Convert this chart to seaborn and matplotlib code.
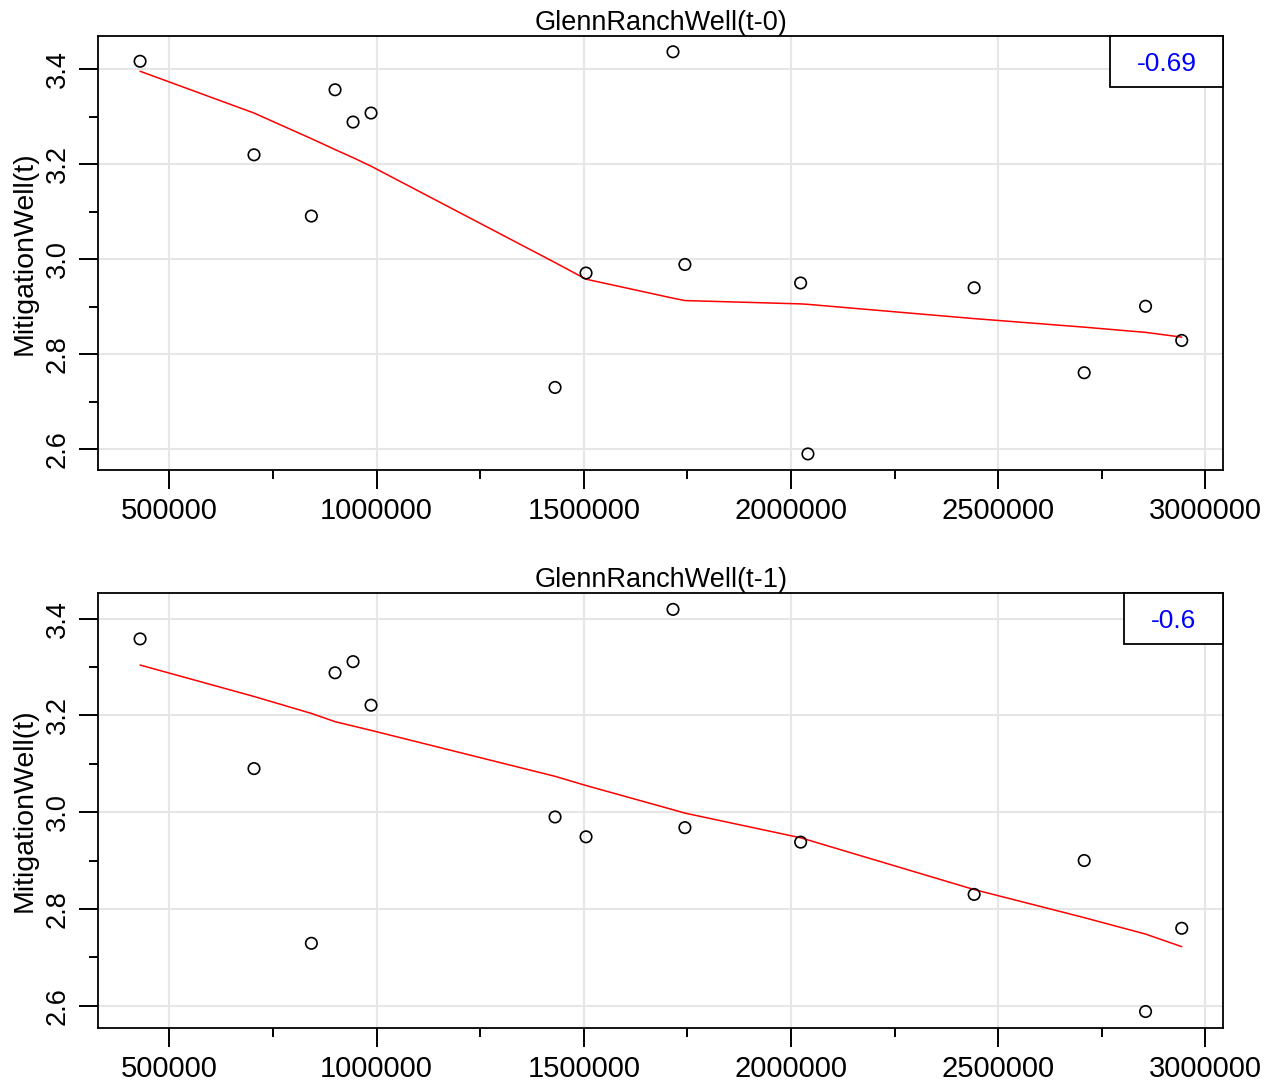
import matplotlib
matplotlib.use("Agg")
import matplotlib.pyplot as plt
from matplotlib.patches import Rectangle
from matplotlib.ticker import MultipleLocator, FormatStrFormatter
import pandas as pd
import seaborn as sns

# -----------------------------
# Values
# -----------------------------
# panel 1: GlennRanchWell(t-0) vs MitigationWell(t)
glenn_t0 = [429100, 704050, 842500, 899650, 943070, 986490, 1430520, 1505300,
            1715150, 1743850, 2023150, 2040760, 2441850, 2707400, 2855500, 2942800]
mitig_t0 = [3.417, 3.220, 3.091, 3.357, 3.289, 3.308, 2.730, 2.971,
            3.437, 2.989, 2.950, 2.590, 2.940, 2.761, 2.901, 2.829]
lowess_t0 = [3.396, 3.308, 3.254, 3.231, 3.214, 3.196, 2.993, 2.958,
             2.918, 2.913, 2.906, 2.905, 2.875, 2.857, 2.846, 2.836]

# panel 2: GlennRanchWell(t-1) vs MitigationWell(t)
glenn_t1 = [429100, 704050, 842500, 899650, 943070, 986490, 1430520, 1505300,
            1715150, 1743850, 2023150, 2441850, 2707400, 2855500, 2942800]
mitig_t1 = [3.358, 3.090, 2.729, 3.288, 3.311, 3.221, 2.990, 2.949,
            3.419, 2.968, 2.938, 2.830, 2.900, 2.588, 2.760]
lowess_t1 = [3.304, 3.239, 3.204, 3.187, 3.178, 3.169, 3.074, 3.055,
             3.005, 2.998, 2.947, 2.840, 2.782, 2.748, 2.722]

titles = ["GlennRanchWell(t-0)", "GlennRanchWell(t-1)"]
corr_labels = ["-0.69", "-0.6"]
y_label = "MitigationWell(t)"

# -----------------------------
# Style
# -----------------------------
sns.set_style("ticks")
plt.rcParams['font.family'] = ['Liberation Sans', 'DejaVu Sans']
plt.rcParams['text.color'] = 'black'
plt.rcParams['axes.labelcolor'] = 'black'
plt.rcParams['xtick.color'] = 'black'
plt.rcParams['ytick.color'] = 'black'

W, H = 1270, 1082
fig = plt.figure(figsize=(W / 100, H / 100), dpi=100)

# layout in pixels: (axes top, corr-box left, corr-box bottom)
panels = [
    (glenn_t0, mitig_t0, lowess_t0, titles[0], corr_labels[0], 35.7, 1110, 86.7),
    (glenn_t1, mitig_t1, lowess_t1, titles[1], corr_labels[1], 593.3, 1124, 644),
]
ax_left, ax_w, ax_h = 98.4, 1125, 434.3

for xs, ys, fit, title, corr, top_px, box_left, box_bottom in panels:
    ax = fig.add_axes([ax_left / W, 1 - (top_px + ax_h) / H, ax_w / W, ax_h / H])
    df = pd.DataFrame({'x': xs, 'y': ys, 'fit': fit})

    ax.grid(True, which='major', color='#E6E6E6', lw=1.5)
    ax.set_axisbelow(True)

    sns.lineplot(data=df, x='x', y='fit', color='red', lw=1.1,
                 legend=False, ax=ax, zorder=2)
    sns.scatterplot(data=df, x='x', y='y', marker='o', s=68,
                    facecolor='none', edgecolor='black', linewidth=1.2,
                    legend=False, ax=ax, zorder=3)

    # R-style 4% padding around the data range
    xr = max(xs) - min(xs)
    yr = max(ys) - min(ys)
    ax.set_xlim(min(xs) - 0.04 * xr, max(xs) + 0.04 * xr)
    ax.set_ylim(min(ys) - 0.04 * yr, max(ys) + 0.04 * yr)

    ax.xaxis.set_major_locator(MultipleLocator(500000))
    ax.xaxis.set_minor_locator(MultipleLocator(250000))
    ax.xaxis.set_major_formatter(FormatStrFormatter('%d'))
    ax.yaxis.set_major_locator(MultipleLocator(0.2))
    ax.yaxis.set_minor_locator(MultipleLocator(0.1))
    ax.yaxis.set_major_formatter(FormatStrFormatter('%.1f'))

    ax.tick_params(which='both', direction='out', width=1.4, color='black',
                   top=False, right=False)
    ax.tick_params(which='major', length=13.7)
    ax.tick_params(which='minor', length=6.8)
    ax.tick_params(axis='x', which='major', labelsize=21, pad=5.8)
    ax.tick_params(axis='y', which='major', labelsize=19.5, pad=15.4)
    for lab in ax.get_yticklabels():
        lab.set_rotation(90)
        lab.set_ha('center')
        lab.set_va('center')

    for sp in ax.spines.values():
        sp.set_visible(True)
        sp.set_color('black')
        sp.set_linewidth(1.3)

    ax.set_xlabel('')
    ax.set_ylabel(y_label, fontsize=20.5)
    ax.yaxis.set_label_coords(-0.054, 0.5)
    ax.set_title(title, fontsize=19.5, pad=4)

    # correlation box in the top-right corner
    bx = (box_left - ax_left) / ax_w
    bh = (box_bottom - top_px) / ax_h
    ax.add_patch(Rectangle((bx, 1 - bh), 1 - bx, bh, transform=ax.transAxes,
                           facecolor='white', edgecolor='black', lw=1.3,
                           zorder=4, clip_on=False))
    ax.text(bx + (1 - bx) / 2, 1 - bh / 2, corr, transform=ax.transAxes,
            ha='center', va='center_baseline', color='blue', fontsize=19,
            zorder=5)

fig.savefig('out.png', dpi=100)
plt.close(fig)
